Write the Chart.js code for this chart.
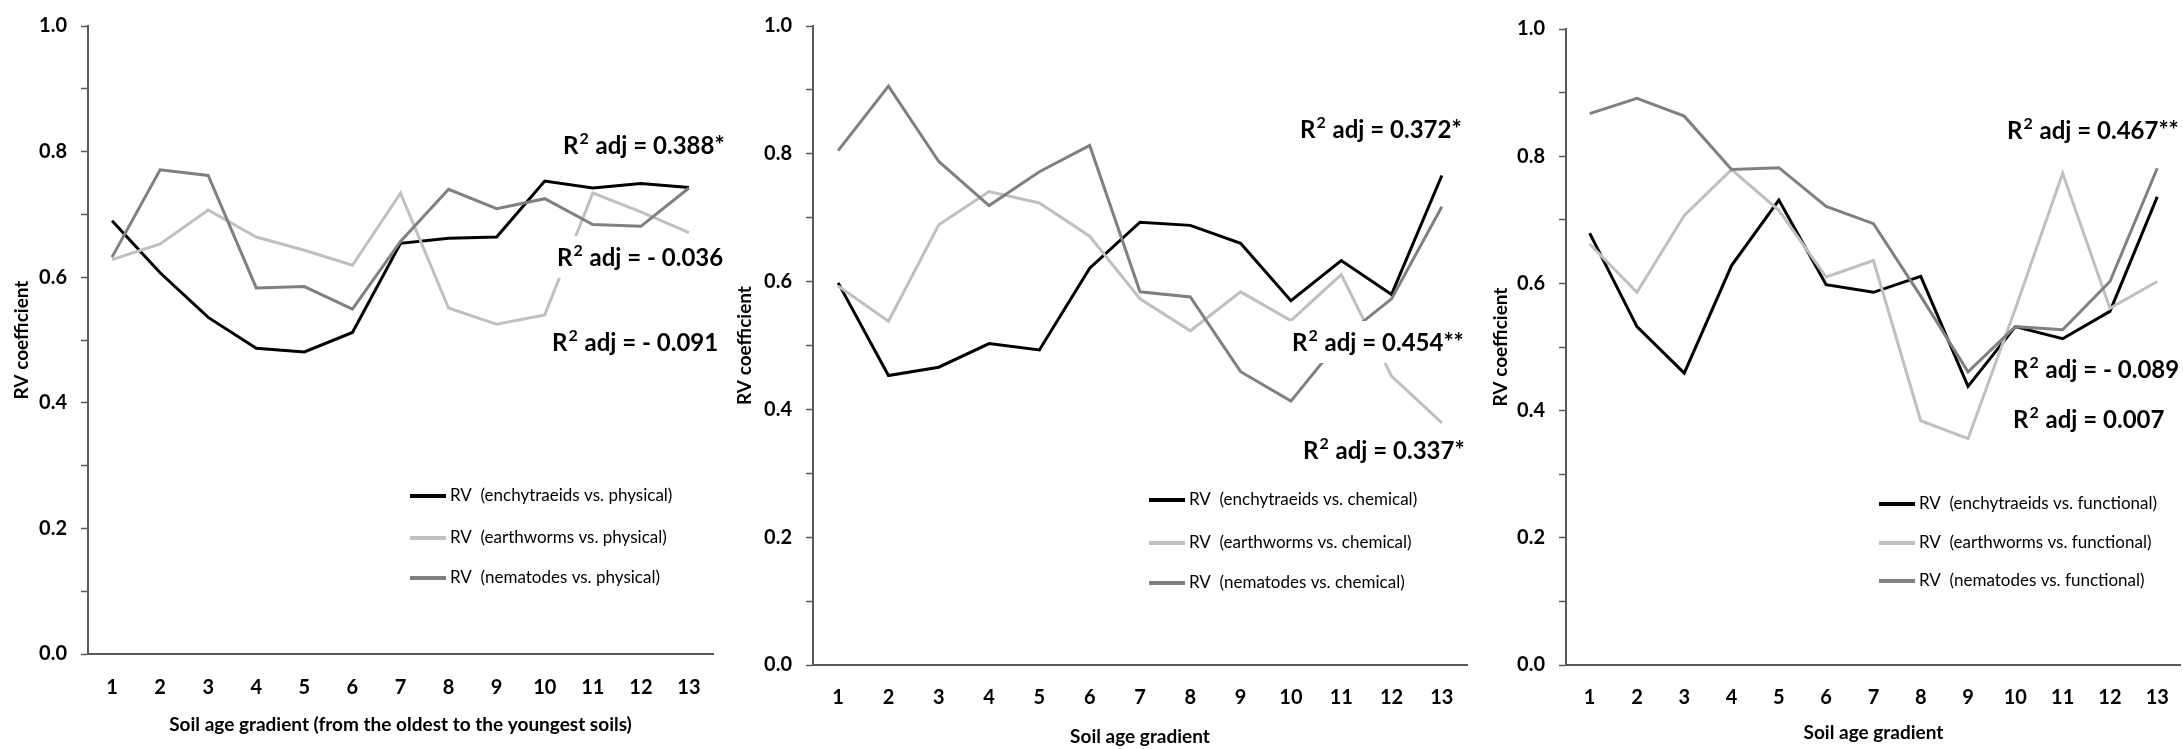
<!DOCTYPE html>
<html><head><meta charset="utf-8">
<script src="https://cdn.jsdelivr.net/npm/chart.js@4"></script>
<style>
html,body{margin:0;padding:0;background:#fff;overflow:hidden;width:2183px;height:749px;position:relative}
canvas{position:absolute;left:0;top:0}
</style></head><body>
<canvas id="c1" width="2190" height="749"></canvas>
<canvas id="c2" width="2190" height="749"></canvas>
<canvas id="c3" width="2190" height="749"></canvas>
<script>
// ---------- data ----------
const categories = ['1','2','3','4','5','6','7','8','9','10','11','12','13'];

const enchPhysical  = [0.690,0.607,0.536,0.487,0.481,0.512,0.654,0.662,0.664,0.753,0.742,0.749,0.743];
const earthPhysical = [0.628,0.653,0.707,0.664,0.643,0.619,0.734,0.551,0.525,0.540,0.734,0.704,0.671];
const nemaPhysical  = [0.632,0.771,0.762,0.583,0.585,0.549,0.657,0.740,0.709,0.725,0.684,0.681,0.742];

const enchChemical  = [0.598,0.453,0.466,0.503,0.493,0.621,0.693,0.688,0.660,0.570,0.633,0.580,0.766];
const earthChemical = [0.593,0.538,0.689,0.741,0.723,0.671,0.573,0.523,0.584,0.539,0.611,0.452,0.379];
const nemaChemical  = [0.805,0.906,0.788,0.719,0.772,0.813,0.584,0.576,0.459,0.413,0.510,0.573,0.717];

const enchFunctional  = [0.679,0.532,0.459,0.628,0.731,0.598,0.586,0.611,0.438,0.532,0.513,0.556,0.736];
const earthFunctional = [0.662,0.586,0.707,0.779,0.715,0.610,0.636,0.384,0.356,0.560,0.773,0.561,0.603];
const nemaFunctional  = [0.867,0.891,0.863,0.779,0.782,0.721,0.694,0.580,0.461,0.532,0.527,0.603,0.781];

const legendPhysical   = ['RV  (enchytraeids vs. physical)','RV  (earthworms vs. physical)','RV  (nematodes vs. physical)'];
const legendChemical   = ['RV  (enchytraeids vs. chemical)','RV  (earthworms vs. chemical)','RV  (nematodes vs. chemical)'];
const legendFunctional = ['RV  (enchytraeids vs. functional)','RV  (earthworms vs. functional)','RV  (nematodes vs. functional)'];

const r2Physical   = ['0.388*','- 0.036','- 0.091'];
const r2Chemical   = ['0.372*','0.454**','0.337*'];
const r2Functional = ['0.467**','- 0.089','0.007'];

const yTitle = 'RV coefficient';
const xTitles = ['Soil age gradient (from the oldest to the youngest soils)','Soil age gradient','Soil age gradient'];

// ---------- styling ----------
const COLORS = ['#000000','#c0c0c0','#808080'];
const FONT = 'Lato, "Open Sans", sans-serif';
const AXIS = '#595959';

const r2Plugin = {
  id: 'r2labels',
  afterDatasetsDraw(chart, args, opts) {
    const ctx = chart.ctx;
    const size = opts.size || 24;
    opts.items.forEach(it => {
      ctx.save();
      const big = `bold ${size}px ${FONT}`;
      const small = `bold ${Math.round(size*0.68)}px ${FONT}`;
      ctx.font = big; const wR = ctx.measureText('R').width;
      ctx.font = small; const w2 = ctx.measureText('2').width;
      const rest = ' adj = ' + it.text;
      ctx.font = big; const wRest = ctx.measureText(rest).width;
      const total = wR + w2 + 2 + wRest;
      ctx.fillStyle = '#fff';
      ctx.fillRect(it.x - 4, it.y - 21, total + 8, 42);
      ctx.fillStyle = '#000';
      ctx.textBaseline = 'alphabetic';
      ctx.textAlign = 'left';
      const base = it.y + size * 0.36;
      ctx.font = big; ctx.fillText('R', it.x, base);
      ctx.font = small; ctx.fillText('2', it.x + wR + 1, base - size * 0.40);
      ctx.font = big; ctx.fillText(rest, it.x + wR + w2 + 2, base);
      ctx.restore();
    });
  }
};

const legendPlugin = {
  id: 'rvlegend',
  afterDatasetsDraw(chart, args, opts) {
    const ctx = chart.ctx;
    ctx.save();
    chart.data.datasets.forEach((ds, i) => {
      const y = opts.y[i];
      ctx.strokeStyle = ds.borderColor;
      ctx.lineWidth = 4;
      ctx.beginPath();
      ctx.moveTo(opts.x, y);
      ctx.lineTo(opts.x + opts.len, y);
      ctx.stroke();
      ctx.fillStyle = '#000';
      ctx.font = `${opts.size}px ${FONT}`;
      ctx.textBaseline = 'middle';
      ctx.textAlign = 'left';
      ctx.fillText(ds.label, opts.x + opts.len + 4, y);
    });
    ctx.restore();
  }
};

function makeChart(id, series, labels, cfg) {
  const datasets = series.map((s, i) => ({
    label: labels[i],
    data: s,
    borderColor: COLORS[i],
    backgroundColor: COLORS[i],
    borderWidth: 3,
    pointRadius: 0,
    tension: 0,
    fill: false,
    order: 3 - i
  }));
  return new Chart(document.getElementById(id), {
    type: 'line',
    data: { labels: categories, datasets },
    options: {
      responsive: false,
      devicePixelRatio: 1,
      animation: false,
      events: [],
      layout: { padding: cfg.padding },
      plugins: {
        legend: { display: false },
        tooltip: { enabled: false },
        r2labels: { items: cfg.r2, size: 24 },
        rvlegend: cfg.legend
      },
      scales: {
        x: {
          type: 'category',
          offset: true,
          grid: { display: false, drawTicks: false },
          border: { display: true, color: AXIS, width: 2 },
          ticks: { color: '#000', font: { family: FONT, size: 20, weight: 'bold' }, padding: cfg.xPad, maxRotation: 0, autoSkip: false },
          title: { display: true, text: cfg.xTitle, color: '#000', font: { family: FONT, size: 19, weight: 'bold' }, padding: 0 },
          afterFit(scale) { scale.height = cfg.xH; }
        },
        y: {
          min: 0, max: 1,
          ticks: {
            stepSize: 0.1, color: '#000', padding: 14,
            font: { family: FONT, size: 20, weight: 'bold' },
            callback: v => (Math.round(v * 10) % 2 === 0 ? Number(v).toFixed(1) : '')
          },
          grid: { display: true, drawOnChartArea: false, drawTicks: true, tickLength: 7, tickColor: AXIS, tickWidth: 1.5, color: AXIS },
          border: { display: true, color: AXIS, width: 2 },
          title: { display: true, text: yTitle, color: '#000', font: { family: FONT, size: 19, weight: 'bold' }, padding: 0 },
          afterFit(scale) { scale.width = cfg.yW; }
        }
      }
    },
    plugins: [r2Plugin, legendPlugin]
  });
}

makeChart('c1', [enchPhysical, earthPhysical, nemaPhysical], legendPhysical, {
  padding: { left: 10, top: 22, right: 2190 - 713, bottom: 749 - 654 - 82 },
  yW: 78, xH: 82, xPad: 22, xTitle: xTitles[0],
  r2: [{ text: r2Physical[0], x: 563, y: 145 }, { text: r2Physical[1], x: 557, y: 257 }, { text: r2Physical[2], x: 552, y: 342 }],
  legend: { x: 410, len: 36, size: 17, y: [496, 538, 578] }
});

makeChart('c2', [enchChemical, earthChemical, nemaChemical], legendChemical, {
  padding: { left: 733, top: 19, right: 2190 - 1467, bottom: 749 - 665 - 83 },
  yW: 80, xH: 83, xPad: 21, xTitle: xTitles[1],
  r2: [{ text: r2Chemical[0], x: 1300, y: 129 }, { text: r2Chemical[1], x: 1292, y: 342 }, { text: r2Chemical[2], x: 1303, y: 450 }],
  legend: { x: 1149, len: 36, size: 17, y: [500, 543, 583] }
});

makeChart('c3', [enchFunctional, earthFunctional, nemaFunctional], legendFunctional, {
  padding: { left: 1489, top: 29, right: 2190 - 2186, bottom: 749 - 665 - 79 },
  yW: 77, xH: 79, xPad: 21, xTitle: xTitles[2],
  r2: [{ text: r2Functional[0], x: 2007, y: 130 }, { text: r2Functional[1], x: 2013, y: 369 }, { text: r2Functional[2], x: 2013, y: 419 }],
  legend: { x: 1879, len: 36, size: 17, y: [504, 543, 581] }
});
</script>
</body></html>
